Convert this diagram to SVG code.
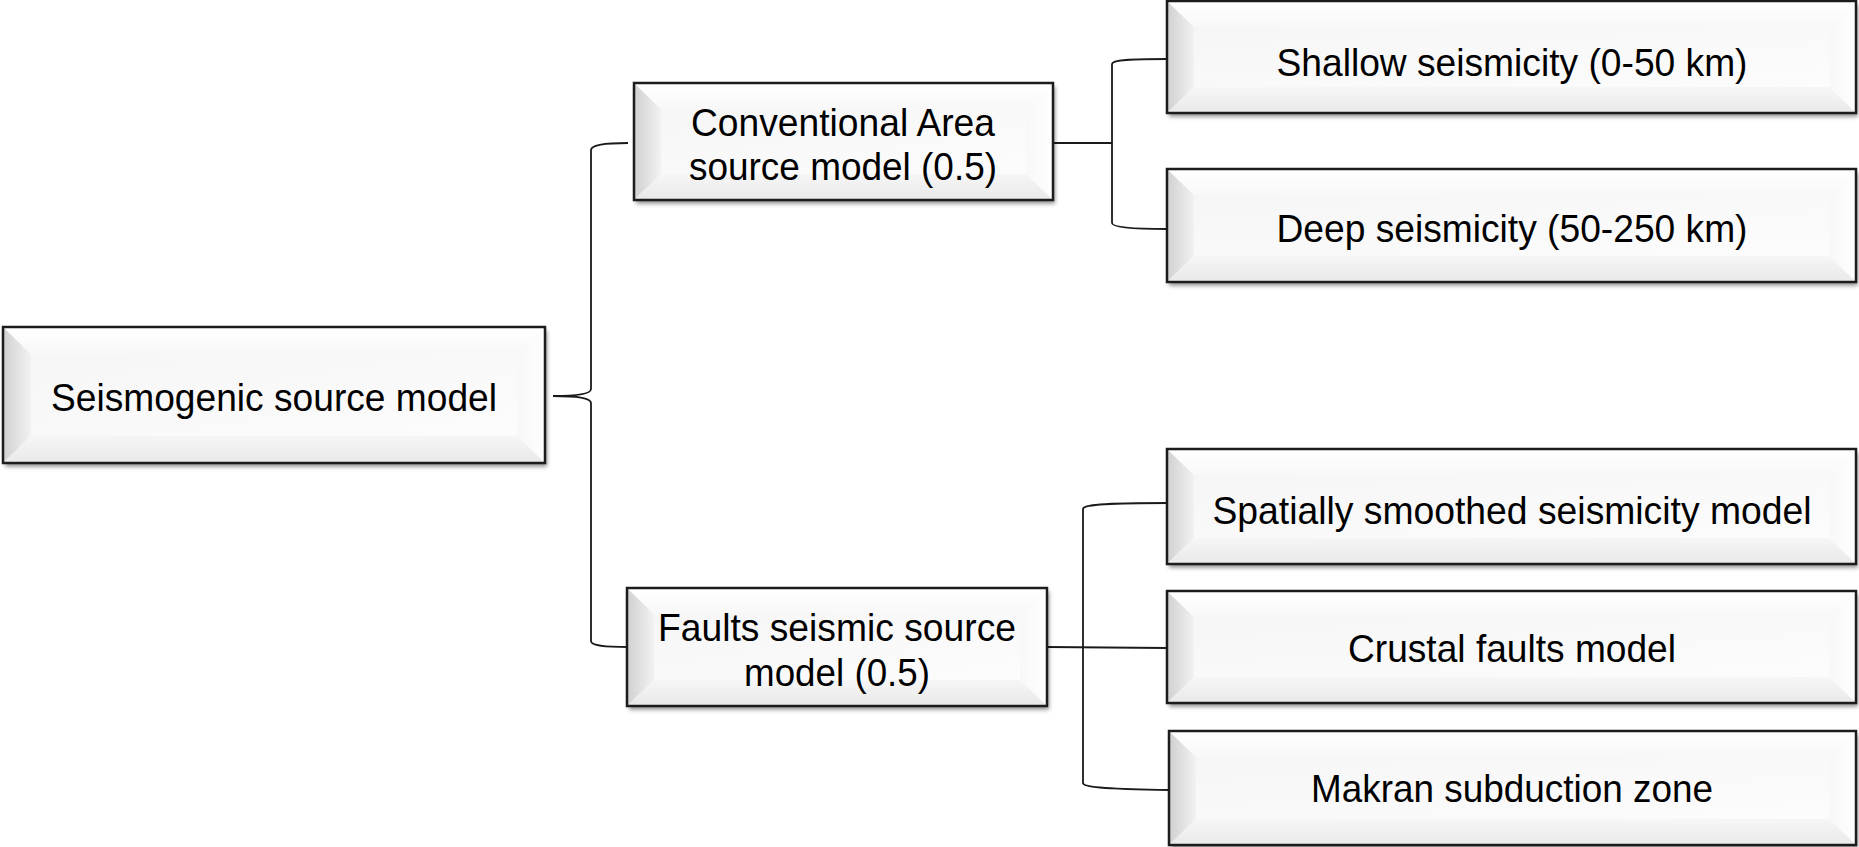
<svg xmlns="http://www.w3.org/2000/svg" width="1859" height="847" viewBox="0 0 1859 847">
  <defs>
    <linearGradient id="bevL" x1="0" y1="0" x2="1" y2="0">
      <stop offset="0" stop-color="#d0d0d0"/>
      <stop offset="1" stop-color="#f2f2f2"/>
    </linearGradient>
    <linearGradient id="bevT" x1="0" y1="0" x2="0" y2="1">
      <stop offset="0" stop-color="#ffffff"/>
      <stop offset="1" stop-color="#f8f8f8"/>
    </linearGradient>
    <linearGradient id="bevB" x1="0" y1="0" x2="0" y2="1">
      <stop offset="0" stop-color="#f6f6f6"/>
      <stop offset="1" stop-color="#e9e9e9"/>
    </linearGradient>
    <linearGradient id="bevR" x1="0" y1="0" x2="1" y2="0">
      <stop offset="0" stop-color="#f8f8f8"/>
      <stop offset="1" stop-color="#fefefe"/>
    </linearGradient>
    <linearGradient id="face" x1="0" y1="0" x2="1" y2="1">
      <stop offset="0" stop-color="#f6f6f6"/>
      <stop offset="1" stop-color="#fcfcfc"/>
    </linearGradient>
    <filter id="shadow" x="-5%" y="-10%" width="112%" height="130%">
      <feDropShadow dx="2" dy="3.5" stdDeviation="2.2" flood-color="#000" flood-opacity="0.45"/>
    </filter>
  </defs>
  <style>
    .base { fill: #f6f6f6; filter: url(#shadow); }
    .bl { fill: url(#bevL); }
    .bt { fill: url(#bevT); }
    .br { fill: url(#bevR); }
    .bb { fill: url(#bevB); }
    .fc { fill: url(#face); }
    .frame { fill: none; stroke: #1c1c1c; stroke-width: 2.5; }
    .lbl { font-family: "Liberation Sans", Arial, sans-serif; font-size: 39.5px; fill: #000; text-anchor: middle; }
    .link { fill: none; stroke: #1a1a1a; stroke-width: 1.8; }
  </style>

  <rect width="1859" height="847" fill="#ffffff"/>

  <!-- connectors -->
  <g id="connectors">
    <!-- brace from the root node to the two branch models -->
    <path class="link" d="M628,143 C605,143 591,145 591,150 L591,389 C591,394 575,396 553,396"/>
    <path class="link" d="M553,396 C575,396 591,398 591,403 L591,641 C591,646 605,647 628,647"/>
    <!-- area source model to depth classes -->
    <path class="link" d="M1053,143 L1112,143"/>
    <path class="link" d="M1167,59 C1130,59 1112,60 1112,64 L1112,223 C1112,227 1130,229 1167,229"/>
    <!-- fault source model to its sub-models -->
    <path class="link" d="M1047,647 L1167,648"/>
    <path class="link" d="M1168,503 C1100,503 1083,505 1083,509 L1083,783 C1083,787 1100,789 1169,790"/>
  </g>

  <!-- root -->
  <g id="node-seismogenic">
    <rect class="base" x="3" y="327" width="542" height="136"/>
    <polygon class="bl" points="3,327 31,354 31,436 3,463"/>
    <polygon class="bt" points="3,327 545,327 517,354 31,354"/>
    <polygon class="br" points="545,327 545,463 517,436 517,354"/>
    <polygon class="bb" points="3,463 545,463 517,436 31,436"/>
    <rect class="fc" x="31" y="354" width="486" height="82"/>
    <rect class="frame" x="3" y="327" width="542" height="136"/>
    <text class="lbl" x="274" y="411" textLength="446" lengthAdjust="spacingAndGlyphs">Seismogenic source model</text>
  </g>

  <g id="node-area-model">
    <rect class="base" x="634" y="83" width="419" height="117"/>
    <polygon class="bl" points="634,83 661,109 661,174 634,200"/>
    <polygon class="bt" points="634,83 1053,83 1026,109 661,109"/>
    <polygon class="br" points="1053,83 1053,200 1026,174 1026,109"/>
    <polygon class="bb" points="634,200 1053,200 1026,174 661,174"/>
    <rect class="fc" x="661" y="109" width="365" height="65"/>
    <rect class="frame" x="634" y="83" width="419" height="117"/>
    <text class="lbl" x="843" y="136" textLength="304" lengthAdjust="spacingAndGlyphs">Conventional Area</text>
    <text class="lbl" x="843" y="180" textLength="308" lengthAdjust="spacingAndGlyphs">source model (0.5)</text>
  </g>

  <g id="node-shallow">
    <rect class="base" x="1167" y="1" width="689" height="112"/>
    <polygon class="bl" points="1167,1 1194,27 1194,87 1167,113"/>
    <polygon class="bt" points="1167,1 1856,1 1829,27 1194,27"/>
    <polygon class="br" points="1856,1 1856,113 1829,87 1829,27"/>
    <polygon class="bb" points="1167,113 1856,113 1829,87 1194,87"/>
    <rect class="fc" x="1194" y="27" width="635" height="60"/>
    <rect class="frame" x="1167" y="1" width="689" height="112"/>
    <text class="lbl" x="1512" y="76" textLength="471" lengthAdjust="spacingAndGlyphs">Shallow seismicity (0-50 km)</text>
  </g>

  <g id="node-deep">
    <rect class="base" x="1167" y="169" width="689" height="113"/>
    <polygon class="bl" points="1167,169 1194,195 1194,256 1167,282"/>
    <polygon class="bt" points="1167,169 1856,169 1829,195 1194,195"/>
    <polygon class="br" points="1856,169 1856,282 1829,256 1829,195"/>
    <polygon class="bb" points="1167,282 1856,282 1829,256 1194,256"/>
    <rect class="fc" x="1194" y="195" width="635" height="61"/>
    <rect class="frame" x="1167" y="169" width="689" height="113"/>
    <text class="lbl" x="1512" y="242" textLength="471" lengthAdjust="spacingAndGlyphs">Deep seismicity (50-250 km)</text>
  </g>

  <g id="node-fault-model">
    <rect class="base" x="627" y="588" width="420" height="118"/>
    <polygon class="bl" points="627,588 654,614 654,680 627,706"/>
    <polygon class="bt" points="627,588 1047,588 1020,614 654,614"/>
    <polygon class="br" points="1047,588 1047,706 1020,680 1020,614"/>
    <polygon class="bb" points="627,706 1047,706 1020,680 654,680"/>
    <rect class="fc" x="654" y="614" width="366" height="66"/>
    <rect class="frame" x="627" y="588" width="420" height="118"/>
    <text class="lbl" x="837" y="641" textLength="358" lengthAdjust="spacingAndGlyphs">Faults seismic source</text>
    <text class="lbl" x="837" y="686" textLength="186" lengthAdjust="spacingAndGlyphs">model (0.5)</text>
  </g>

  <g id="node-smoothed">
    <rect class="base" x="1167" y="449" width="689" height="115"/>
    <polygon class="bl" points="1167,449 1194,475 1194,538 1167,564"/>
    <polygon class="bt" points="1167,449 1856,449 1829,475 1194,475"/>
    <polygon class="br" points="1856,449 1856,564 1829,538 1829,475"/>
    <polygon class="bb" points="1167,564 1856,564 1829,538 1194,538"/>
    <rect class="fc" x="1194" y="475" width="635" height="63"/>
    <rect class="frame" x="1167" y="449" width="689" height="115"/>
    <text class="lbl" x="1512" y="524" textLength="599" lengthAdjust="spacingAndGlyphs">Spatially smoothed seismicity model</text>
  </g>

  <g id="node-crustal">
    <rect class="base" x="1167" y="591" width="689" height="112"/>
    <polygon class="bl" points="1167,591 1194,617 1194,677 1167,703"/>
    <polygon class="bt" points="1167,591 1856,591 1829,617 1194,617"/>
    <polygon class="br" points="1856,591 1856,703 1829,677 1829,617"/>
    <polygon class="bb" points="1167,703 1856,703 1829,677 1194,677"/>
    <rect class="fc" x="1194" y="617" width="635" height="60"/>
    <rect class="frame" x="1167" y="591" width="689" height="112"/>
    <text class="lbl" x="1512" y="662" textLength="328" lengthAdjust="spacingAndGlyphs">Crustal faults model</text>
  </g>

  <g id="node-makran">
    <rect class="base" x="1169" y="731" width="687" height="114"/>
    <polygon class="bl" points="1169,731 1196,757 1196,819 1169,845"/>
    <polygon class="bt" points="1169,731 1856,731 1829,757 1196,757"/>
    <polygon class="br" points="1856,731 1856,845 1829,819 1829,757"/>
    <polygon class="bb" points="1169,845 1856,845 1829,819 1196,819"/>
    <rect class="fc" x="1196" y="757" width="633" height="62"/>
    <rect class="frame" x="1169" y="731" width="687" height="114"/>
    <text class="lbl" x="1512" y="802" textLength="402" lengthAdjust="spacingAndGlyphs">Makran subduction zone</text>
  </g>
</svg>
